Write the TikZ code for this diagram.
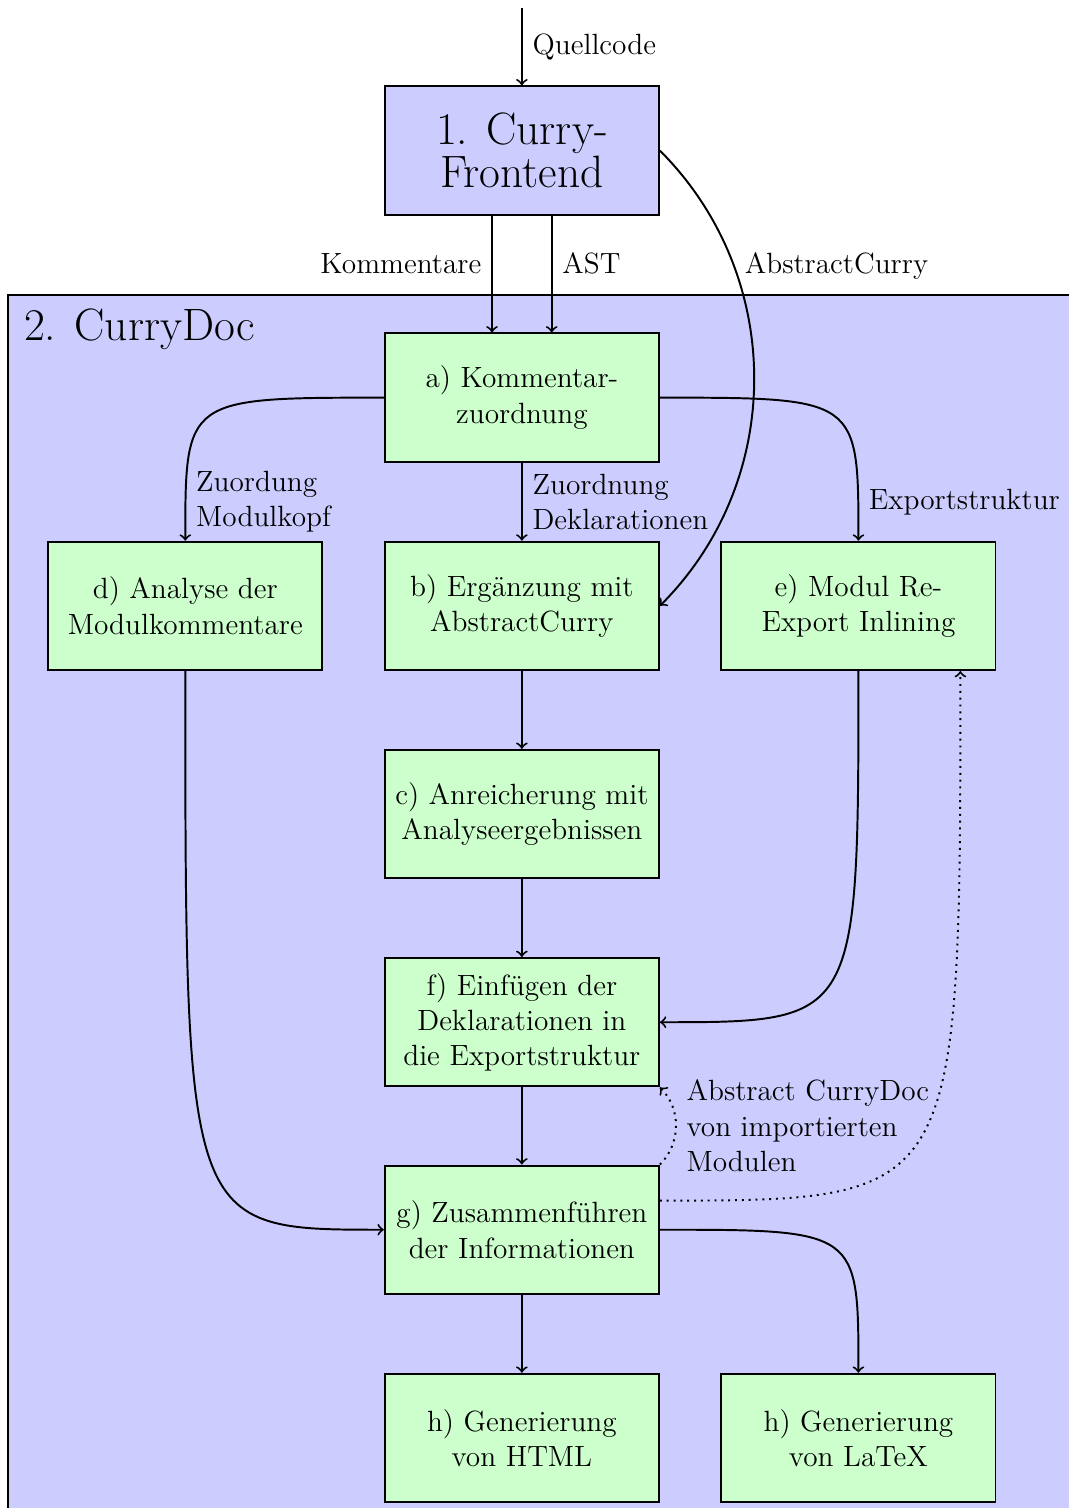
\documentclass[tikz,border=0pt,12pt]{standalone}
\usepackage{fontspec}
\begin{document}
\begin{tikzpicture}[
	box/.style={draw, thick, fill=green!20, minimum width=3.95cm, minimum height=1.85cm, align=center},
	big/.style={font=\fontsize{18.6}{17.5}\selectfont},
	flow/.style={->, thick},
	hint/.style={->, thick, dotted}]
				% Frame
				\useasboundingbox (0,0) rectangle (15.39,-21.73);
				\draw [thick, fill=blue!20] (0.115,-4.25) rectangle (16,-23);
				\node [anchor=north west, big] (cdtitle) at (0.2,-4.3) {2. CurryDoc};
				% Frontend
				\node [box, fill=blue!20, big] (frontend) at (7.52,-2.17) {1. Curry-\\Frontend};
				% Steps
				\node [box] (zuord) at (7.52,-5.73) {a) Kommentar-\\zuordnung};
				\node [box] (analyse) at (2.67,-8.73) {d) Analyse der\\Modulkommentare};
				\node [box] (ergaenz) at (7.52,-8.73) {b) Ergänzung mit\\AbstractCurry};
				\node [box] (reexport) at (12.37,-8.73) {e) Modul Re-\\Export Inlining};
				\node [box] (anreich) at (7.52,-11.73) {c) Anreicherung mit\\Analyseergebnissen};
				\node [box] (einfueg) at (7.52,-14.73) {f) Einfügen der\\Deklarationen in\\die Exportstruktur};
				\node [box] (zusamm) at (7.52,-17.72) {g) Zusammenführen\\der Informationen};
				\node [box] (html) at (7.52,-20.72) {h) Generierung\\von HTML};
				\node [box] (latex) at (12.37,-20.72) {h) Generierung\\von LaTeX};
				% Input
				\coordinate (src) at (7.52,-0.115);
				\draw [flow] (src) -- node [right] {Quellcode} (frontend);
				\draw [flow] ([xshift=-0.43cm]frontend.south) -- node [pos=0.41, left] {Kommentare} ([xshift=-0.43cm]zuord.north);
				\draw [flow] ([xshift=0.43cm]frontend.south) -- node [pos=0.41, right] {AST} ([xshift=0.43cm]zuord.north);
				\draw [flow] (frontend.east) to [out=-45,in=45] node [pos=0.27, right] {AbstractCurry} (ergaenz.east);
				% Flow
				\draw [flow] (zuord.west) .. controls (analyse.north |- zuord.west) .. (analyse.north) node [pos=0.9, right, align=left] {Zuordung\\Modulkopf};
				\draw [flow] (zuord) -- node [right, align=left] {Zuordnung\\Deklarationen} (ergaenz);
				\draw [flow] (zuord.east) .. controls (reexport.north |- zuord.east) .. (reexport.north) node [pos=0.9, right] {Exportstruktur};
				\draw [flow] (ergaenz) -- (anreich);
				\draw [flow] (anreich) -- (einfueg);
				\draw [flow] (reexport.south) .. controls (reexport.south |- einfueg.east) .. (einfueg.east);
				\draw [flow] (analyse.south) .. controls (analyse.south |- zusamm.west) .. (zusamm.west);
				\draw [flow] (einfueg) -- (zusamm);
				\draw [flow] (zusamm) -- (html);
				\draw [flow] (zusamm.east) .. controls (latex.north |- zusamm.east) .. (latex.north);
				% Imports
				\coordinate (imp) at ([yshift=0.42cm]zusamm.east);
				\coordinate (reimp) at ([xshift=-0.52cm]reexport.south east);
				\draw [hint] (zusamm.north east) to [out=45,in=-45] node [right, align=left] {Abstract CurryDoc\\von importierten\\Modulen} (einfueg.south east);
				\draw [hint] (imp) .. controls (reimp |- imp) .. (reimp);
			\end{tikzpicture}
\end{document}
